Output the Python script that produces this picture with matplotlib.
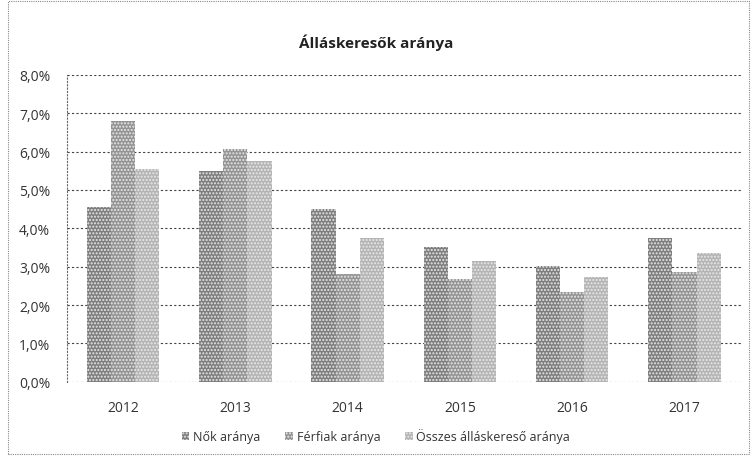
import numpy as np
import matplotlib.pyplot as plt
from matplotlib.patches import Rectangle
from matplotlib.ticker import FuncFormatter

years = ["2012", "2013", "2014", "2015", "2016", "2017"]
nok = [4.55, 5.5, 4.5, 3.5, 3.02, 3.74]
ferfiak = [6.8, 6.08, 2.8, 2.67, 2.35, 2.85]
osszes = [5.55, 5.76, 3.74, 3.15, 2.72, 3.35]

series = [
    ("Nők aránya", nok, "#7e7e7e"),
    ("Férfiak aránya", ferfiak, "#939393"),
    ("Összes álláskereső aránya", osszes, "#b4b4b4"),
]

plt.rcParams['font.family'] = ['Open Sans', 'DejaVu Sans']

fig = plt.figure(figsize=(7.52, 4.6), dpi=100)
ax = fig.add_axes([0.089, 0.168, 0.896, 0.667])

x = np.arange(len(years))
width = 0.215
for i, (label, vals, color) in enumerate(series):
    ax.bar(x + (i - 1) * width, vals, width, color=color, label=label,
           hatch='.....', edgecolor='#e8e8e8', linewidth=0, zorder=3)

ax.set_ylim(0, 8)
ax.set_xlim(-0.5, len(years) - 0.5)
ax.set_yticks(np.arange(0, 9, 1))
ax.yaxis.set_major_formatter(FuncFormatter(lambda v, p: f"{v:.1f}%".replace(".", ",")))
ax.set_xticks(x)
ax.set_xticklabels(years)
ax.tick_params(axis='both', length=0, labelsize=10, colors='#333333')
ax.tick_params(axis='y', pad=12)
ax.tick_params(axis='x', pad=13)
ax.grid(axis='y', color='#444444', linestyle=(0, (2, 2)), linewidth=0.8, zorder=0)

for s in ['top', 'right', 'bottom']:
    ax.spines[s].set_visible(False)
ax.spines['left'].set_linestyle((0, (1, 2)))
ax.spines['left'].set_color('#666666')

fig.text(0.5, 0.907, "Álláskeresők aránya", ha='center', va='center',
         fontsize=11, fontweight='bold', color='#222222')

fig.legend(loc='center', bbox_to_anchor=(0.5, 0.05), ncol=3, frameon=False,
           fontsize=9, handlelength=0.6, handleheight=0.6, handletextpad=0.3,
           columnspacing=2.0, labelcolor='#333333')

fig.patches.append(Rectangle((0.011, 0.01), 0.985, 0.985, transform=fig.transFigure,
                             fill=False, edgecolor='#888888', linewidth=0.8,
                             linestyle=(0, (1, 1))))

fig.savefig("out.png", dpi=100)
